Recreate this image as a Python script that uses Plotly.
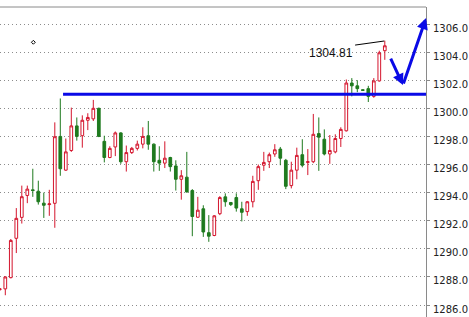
import plotly.graph_objects as go

# Candle data (index, open, high, low, close)
idx = list(range(-1, 70))
opens = [1287.1, 1287.15, 1287.95, 1290.75, 1292.24, 1293.8, 1294.2, 1294.1, 1293.25, 1293.15,
         1293.24, 1298.0, 1295.6, 1297.0, 1298.75, 1298.05, 1299.15, 1299.25, 1300.0, 1297.65,
         1296.5, 1297.25, 1298.25, 1296.2, 1296.85, 1297.15, 1297.45, 1298.05, 1297.45, 1296.3,
         1296.1, 1296.5, 1295.9, 1294.95, 1295.1, 1294.15, 1292.25, 1292.85, 1291.15, 1290.95,
         1292.5, 1293.7, 1293.3, 1293.65, 1292.85, 1292.65, 1293.35, 1294.85, 1295.95, 1296.2,
         1296.75, 1297.1, 1296.3, 1294.5, 1295.6, 1296.7, 1296.15, 1296.2, 1298.2, 1297.8,
         1296.75, 1296.9, 1297.85, 1298.4, 1301.8, 1301.6, 1301.32, 1301.4, 1300.85, 1301.95,
         1304.1]
highs = [1287.2, 1288.05, 1290.7, 1292.9, 1294.5, 1294.5, 1295.7, 1294.85, 1294.0, 1294.2,
         1299.0, 1300.7, 1297.85, 1300.05, 1299.35, 1299.5, 1299.65, 1300.6, 1300.05, 1298.05,
         1297.3, 1298.35, 1298.3, 1297.35, 1297.25, 1297.7, 1298.65, 1299.1, 1297.5, 1297.3,
         1297.65, 1296.55, 1296.3, 1295.6, 1296.9, 1294.25, 1293.7, 1293.1, 1292.4, 1292.4,
         1293.75, 1293.95, 1293.3, 1293.95, 1293.35, 1293.4, 1295.2, 1296.0, 1296.9, 1296.85,
         1297.45, 1297.25, 1296.4, 1296.2, 1297.2, 1297.8, 1297.1, 1299.6, 1299.35, 1298.5,
         1298.1, 1298.15, 1298.65, 1302.05, 1302.15, 1302.0, 1301.35, 1301.6, 1302.15, 1304.1,
         1304.81]
lows = [1287.0, 1286.7, 1287.9, 1289.7, 1291.8, 1293.25, 1293.7, 1293.15, 1292.2, 1292.35,
        1291.5, 1295.2, 1295.55, 1296.9, 1297.7, 1297.2, 1298.45, 1299.1, 1297.95, 1296.15,
        1296.45, 1296.6, 1296.05, 1295.5, 1296.75, 1297.0, 1297.15, 1297.05, 1295.5, 1295.55,
        1295.75, 1295.5, 1294.15, 1293.5, 1294.0, 1290.9, 1292.2, 1290.85, 1290.5, 1290.9,
        1292.4, 1293.0, 1293.05, 1292.65, 1291.95, 1292.35, 1292.95, 1294.2, 1295.55, 1295.75,
        1296.55, 1295.95, 1294.25, 1294.3, 1294.95, 1295.8, 1295.25, 1296.1, 1295.55, 1296.65,
        1296.05, 1296.8, 1297.25, 1298.35, 1300.85, 1301.15, 1301.25, 1300.45, 1300.75, 1301.9,
        1303.45]
closes = [1287.15, 1288.0, 1290.6, 1292.17, 1293.71, 1294.25, 1294.15, 1293.35, 1293.1, 1293.2,
          1297.98, 1295.7, 1296.9, 1298.75, 1298.0, 1299.15, 1299.35, 1300.0, 1298.0, 1296.5,
          1297.15, 1298.25, 1296.2, 1296.85, 1297.15, 1297.45, 1298.0, 1297.45, 1296.2, 1296.1,
          1296.45, 1295.85, 1294.95, 1295.2, 1294.05, 1292.3, 1292.75, 1291.2, 1290.9, 1292.35,
          1293.65, 1293.35, 1293.15, 1292.9, 1292.6, 1293.35, 1294.8, 1295.85, 1296.15, 1296.7,
          1297.05, 1296.45, 1294.45, 1295.6, 1296.65, 1295.95, 1296.2, 1298.15, 1297.95, 1296.75,
          1297.0, 1297.85, 1298.5, 1301.8, 1301.6, 1301.4, 1301.28, 1300.85, 1301.95, 1303.95,
          1304.45]

# Y axis ticks
tick_vals = [1286, 1288, 1290, 1292, 1294, 1296, 1298, 1300, 1302, 1304, 1306]
tick_text = [f"{v:.1f}" for v in tick_vals]

# Drawn objects (in data coordinates)
level = 1301.0
level_start = 10.5
label_text = "1304.81"
label_pos = (59.3, 1303.94)
label_line = ([63.6, 68.9], [1304.5, 1304.79])
arrow1 = ((69.95, 1303.65), (72.3, 1301.66))
arrow2 = ((72.3, 1301.66), (76.5, 1306.43))
dot_marker = ([5.1], [1304.7])

x_range = [-0.964, 76.49]
y_range = [1285.15, 1307.21]

RED = "#d4142c"
GREEN = "#1e7a1e"
BLUE = "#0a0ae6"

fig = go.Figure()
fig.add_trace(go.Candlestick(
    x=idx, open=opens, high=highs, low=lows, close=closes,
    increasing=dict(line=dict(color=RED, width=1), fillcolor="white"),
    decreasing=dict(line=dict(color=GREEN, width=1), fillcolor=GREEN),
    whiskerwidth=0, showlegend=False, hoverinfo="skip",
))
fig.add_trace(go.Scatter(
    x=dot_marker[0], y=dot_marker[1], mode="markers",
    marker=dict(symbol="diamond-open", size=3, color="black", line=dict(width=1, color="black")),
    showlegend=False, hoverinfo="skip",
))

fig.add_shape(type="line", xref="x", yref="y", x0=level_start, x1=x_range[1],
              y0=level, y1=level, line=dict(color=BLUE, width=3))
fig.add_shape(type="line", xref="x", yref="y", x0=label_line[0][0], x1=label_line[0][1],
              y0=label_line[1][0], y1=label_line[1][1], line=dict(color="black", width=1))
fig.add_shape(type="line", xref="paper", yref="paper", x0=0, x1=1, y0=1, y1=1,
              line=dict(color="#8a8a8a", width=1))

fig.add_annotation(x=label_pos[0], y=label_pos[1], text=label_text, showarrow=False,
                   font=dict(family="Liberation Sans, Arial", size=12, color="#111"),
                   xanchor="center", yanchor="middle")
for (tail, head) in (arrow1, arrow2):
    fig.add_annotation(x=head[0], y=head[1], ax=tail[0], ay=tail[1],
                       xref="x", yref="y", axref="x", ayref="y", text="",
                       showarrow=True, arrowhead=2, arrowsize=0.75, arrowwidth=3,
                       arrowcolor=BLUE)

fig.update_layout(
    width=469, height=317,
    margin=dict(l=0, r=43, t=7, b=0),
    paper_bgcolor="white", plot_bgcolor="white",
    xaxis=dict(range=x_range, visible=False, rangeslider=dict(visible=False),
               showgrid=False, zeroline=False),
    yaxis=dict(range=y_range, side="right", tickvals=tick_vals, ticktext=tick_text,
               showgrid=True, gridcolor="#8c8c8c", griddash="1px,3px", gridwidth=1,
               showline=True, linecolor="#8a8a8a", linewidth=1,
               ticks="outside", ticklen=3, tickcolor="#8a8a8a",
               ticklabelshift=4, ticklabelstandoff=1,
               tickfont=dict(family="DejaVu Sans", size=10, color="#222"),
               zeroline=False, fixedrange=True),
)

fig.write_html("out.html")
